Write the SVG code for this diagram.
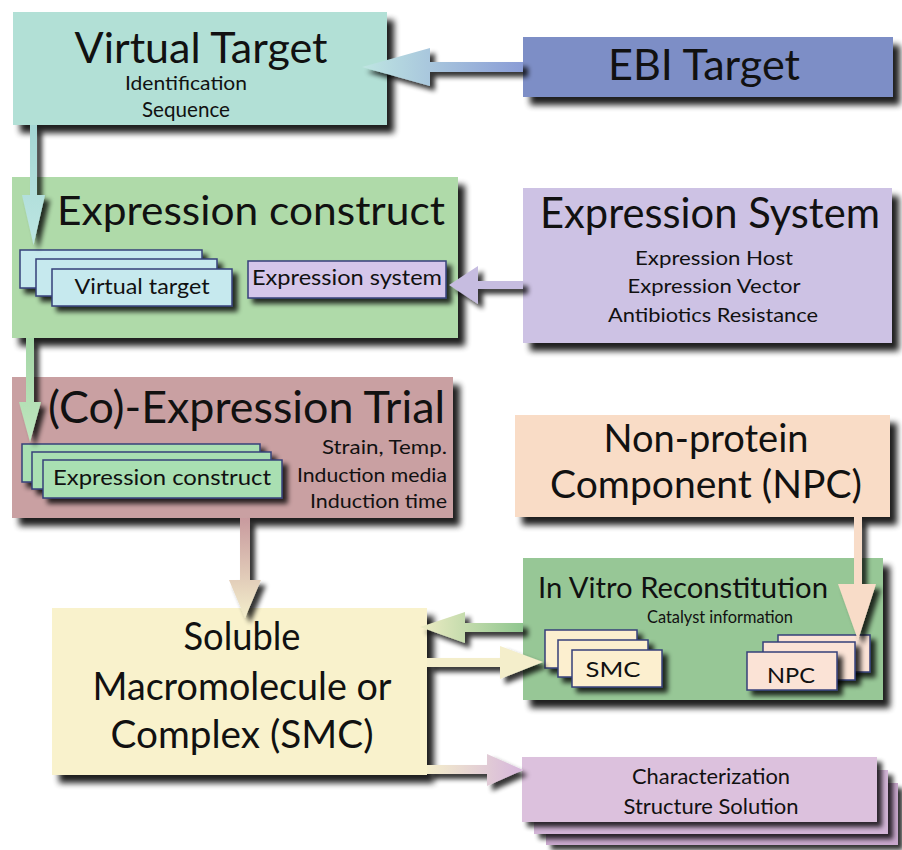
<svg xmlns="http://www.w3.org/2000/svg" width="902" height="850" viewBox="0 0 902 850">
<defs>
<style>
text{font-family:Lato,"Open Sans","DejaVu Sans",sans-serif;fill:#111;}
.m{text-anchor:middle;}
.e{text-anchor:end;}
.sb{stroke:#36407a;stroke-width:1.5;}
</style>
<filter id="sh" filterUnits="userSpaceOnUse" x="0" y="0" width="902" height="850">
<feGaussianBlur in="SourceAlpha" stdDeviation="3.2"/>
<feOffset dx="7" dy="8"/>
<feComponentTransfer><feFuncA type="linear" slope="0.88"/></feComponentTransfer>
<feMerge><feMergeNode/><feMergeNode in="SourceGraphic"/></feMerge>
</filter>
<filter id="ss" filterUnits="userSpaceOnUse" x="0" y="0" width="902" height="850">
<feGaussianBlur in="SourceAlpha" stdDeviation="2.5"/>
<feOffset dx="5" dy="5"/>
<feComponentTransfer><feFuncA type="linear" slope="0.8"/></feComponentTransfer>
<feMerge><feMergeNode/><feMergeNode in="SourceGraphic"/></feMerge>
</filter>
<linearGradient id="gEbi" x1="1" y1="0" x2="0" y2="0"><stop offset="0" stop-color="#8a9cd6"/><stop offset="1" stop-color="#bfe6e2"/></linearGradient>
<linearGradient id="gVt" x1="0" y1="0" x2="0" y2="1"><stop offset="0" stop-color="#a4d6d4"/><stop offset="1" stop-color="#bde6e2"/></linearGradient>
<linearGradient id="gEc" x1="0" y1="0" x2="0" y2="1"><stop offset="0" stop-color="#a4d6a6"/><stop offset="1" stop-color="#bfe6bf"/></linearGradient>
<linearGradient id="gCo" x1="0" y1="0" x2="0" y2="1"><stop offset="0" stop-color="#c89a9e"/><stop offset="1" stop-color="#f3eecb"/></linearGradient>
<linearGradient id="gIv" x1="1" y1="0" x2="0" y2="0"><stop offset="0" stop-color="#8fc68f"/><stop offset="1" stop-color="#eeecc4"/></linearGradient>
<linearGradient id="gCh" x1="0" y1="0" x2="1" y2="0"><stop offset="0" stop-color="#f4eecb"/><stop offset="1" stop-color="#d6b6dc"/></linearGradient>
</defs>
<rect width="902" height="850" fill="#ffffff"/>

<g id="virtual-target">
<rect x="13" y="12" width="374" height="113" fill="#b2e0d6" filter="url(#sh)"/>
<text class="m" x="201" y="63" font-size="42" textLength="253" lengthAdjust="spacingAndGlyphs">Virtual Target</text>
<text class="m" x="186" y="90" font-size="20" textLength="122" lengthAdjust="spacingAndGlyphs">Identification</text>
<text class="m" x="186" y="117" font-size="21" textLength="88" lengthAdjust="spacingAndGlyphs">Sequence</text>
</g>

<g id="ebi-target">
<rect x="523" y="37" width="370" height="60" fill="#7d8ec6" filter="url(#sh)"/>
<text class="m" x="704" y="80" font-size="42" textLength="192" lengthAdjust="spacingAndGlyphs">EBI Target</text>
</g>

<g id="expression-construct">
<rect x="12" y="177" width="446" height="161" fill="#afdaa9" filter="url(#sh)"/>
<text x="57" y="225" font-size="40" textLength="388" lengthAdjust="spacingAndGlyphs">Expression construct</text>
<rect class="sb" x="20" y="250" width="182" height="38" fill="#c6e9ee" filter="url(#ss)"/>
<rect class="sb" x="36" y="259" width="181" height="37" fill="#c6e9ee" filter="url(#ss)"/>
<rect class="sb" x="52" y="269" width="180" height="37" fill="#c6e9ee" filter="url(#ss)"/>
<text class="m" x="142" y="294" font-size="22" textLength="135" lengthAdjust="spacingAndGlyphs">Virtual target</text>
<rect class="sb" x="248" y="261" width="198" height="37" fill="#d5c6ea" filter="url(#ss)"/>
<text class="m" x="347" y="285" font-size="22" textLength="190" lengthAdjust="spacingAndGlyphs">Expression system</text>
</g>

<g id="expression-system">
<rect x="523" y="188" width="369" height="155" fill="#cdc2e4" filter="url(#sh)"/>
<text class="m" x="710" y="228" font-size="42" textLength="340" lengthAdjust="spacingAndGlyphs">Expression System</text>
<text class="m" x="714" y="265" font-size="20" textLength="158" lengthAdjust="spacingAndGlyphs">Expression Host</text>
<text class="m" x="714" y="293" font-size="20" textLength="173" lengthAdjust="spacingAndGlyphs">Expression Vector</text>
<text class="m" x="713" y="322" font-size="20" textLength="210" lengthAdjust="spacingAndGlyphs">Antibiotics Resistance</text>
</g>

<g id="co-expression-trial">
<rect x="12" y="377" width="441" height="141" fill="#c9a0a2" filter="url(#sh)"/>
<text x="48" y="423" font-size="44" textLength="397" lengthAdjust="spacingAndGlyphs">(Co)-Expression Trial</text>
<rect class="sb" x="22" y="444" width="238" height="38" fill="#a9dfb2" filter="url(#ss)"/>
<rect class="sb" x="32" y="452" width="239" height="37" fill="#a9dfb2" filter="url(#ss)"/>
<rect class="sb" x="43" y="460" width="239" height="38" fill="#a9dfb2" filter="url(#ss)"/>
<text class="m" x="162" y="485" font-size="22" textLength="218" lengthAdjust="spacingAndGlyphs">Expression construct</text>
<text class="e" x="447" y="454" font-size="20" textLength="125" lengthAdjust="spacingAndGlyphs">Strain, Temp.</text>
<text class="e" x="447" y="482" font-size="20" textLength="150" lengthAdjust="spacingAndGlyphs">Induction media</text>
<text class="e" x="447" y="508" font-size="20" textLength="137" lengthAdjust="spacingAndGlyphs">Induction time</text>
</g>

<g id="non-protein-component">
<rect x="515" y="415" width="375" height="102" fill="#f9dcc6" filter="url(#sh)"/>
<text class="m" x="706" y="452" font-size="38" textLength="205" lengthAdjust="spacingAndGlyphs">Non-protein</text>
<text class="m" x="706" y="498" font-size="38" textLength="312" lengthAdjust="spacingAndGlyphs">Component (NPC)</text>
</g>

<g id="in-vitro-reconstitution">
<rect x="523" y="558" width="360" height="142" fill="#97c796" filter="url(#sh)"/>
<text x="538" y="598" font-size="29" textLength="290" lengthAdjust="spacingAndGlyphs">In Vitro Reconstitution</text>
<text x="647" y="623" font-size="17" textLength="146" lengthAdjust="spacingAndGlyphs">Catalyst information</text>
<rect class="sb" x="545" y="630" width="92" height="38" fill="#fcefcf" filter="url(#ss)"/>
<rect class="sb" x="558" y="640" width="90" height="37" fill="#fcefcf" filter="url(#ss)"/>
<rect class="sb" x="572" y="650" width="90" height="37" fill="#fcefcf" filter="url(#ss)"/>
<text class="m" x="613" y="677" font-size="22" textLength="55" lengthAdjust="spacingAndGlyphs">SMC</text>
<rect class="sb" x="778" y="635" width="92" height="37" fill="#fbe3d6" filter="url(#ss)"/>
<rect class="sb" x="763" y="642" width="92" height="38" fill="#fbe3d6" filter="url(#ss)"/>
<rect class="sb" x="747" y="652" width="90" height="38" fill="#fbe3d6" filter="url(#ss)"/>
<text class="m" x="791" y="683" font-size="22" textLength="48" lengthAdjust="spacingAndGlyphs">NPC</text>
</g>

<g id="soluble-smc">
<rect x="52" y="608" width="375" height="167" fill="#f9f2cc" filter="url(#sh)"/>
<text class="m" x="242" y="650" font-size="38" textLength="117" lengthAdjust="spacingAndGlyphs">Soluble</text>
<text class="m" x="242" y="700" font-size="38" textLength="299" lengthAdjust="spacingAndGlyphs">Macromolecule or</text>
<text class="m" x="242" y="748" font-size="38" textLength="263" lengthAdjust="spacingAndGlyphs">Complex (SMC)</text>
</g>

<g id="characterization">
<rect x="546" y="783" width="352" height="62" fill="#c9a8cd" filter="url(#ss)"/>
<rect x="534" y="770" width="354" height="64" fill="#d2b4d6" filter="url(#ss)"/>
<rect x="522" y="757" width="355" height="65" fill="#dcc1dd" filter="url(#ss)"/>
<text class="m" x="711" y="784" font-size="21" textLength="158" lengthAdjust="spacingAndGlyphs">Characterization</text>
<text class="m" x="711" y="814" font-size="21" textLength="175" lengthAdjust="spacingAndGlyphs">Structure Solution</text>
</g>

<g id="connectors" filter="url(#ss)">
<polygon points="523,62 430,62 430,48 362,67 430,86 430,72 523,72" fill="url(#gEbi)"/>
<polygon points="30,125 37,125 37,195 45,195 33.5,245 22,195 30,195" fill="url(#gVt)"/>
<polygon points="523,281 478,281 478,266 449,285 478,304 478,289 523,289" fill="#c6bce0"/>
<polygon points="26,338 34,338 34,402 41,402 30,442 19,402 26,402" fill="url(#gEc)"/>
<polygon points="240,518 250,518 250,580 261,580 245,618 229,580 240,580" fill="url(#gCo)"/>
<polygon points="523,623 465,623 465,612 420,627 465,643 465,632 523,632" fill="url(#gIv)"/>
<polygon points="427,658 500,658 500,646 543,662 500,679 500,667 427,667" fill="#f4eecb"/>
<polygon points="427,765 487,765 487,754 523,770 487,786 487,774 427,774" fill="url(#gCh)"/>
<polygon points="854,517 862,517 862,584 876,584 858,640 838,584 854,584" fill="#f8dcc8"/>
</g>
</svg>
